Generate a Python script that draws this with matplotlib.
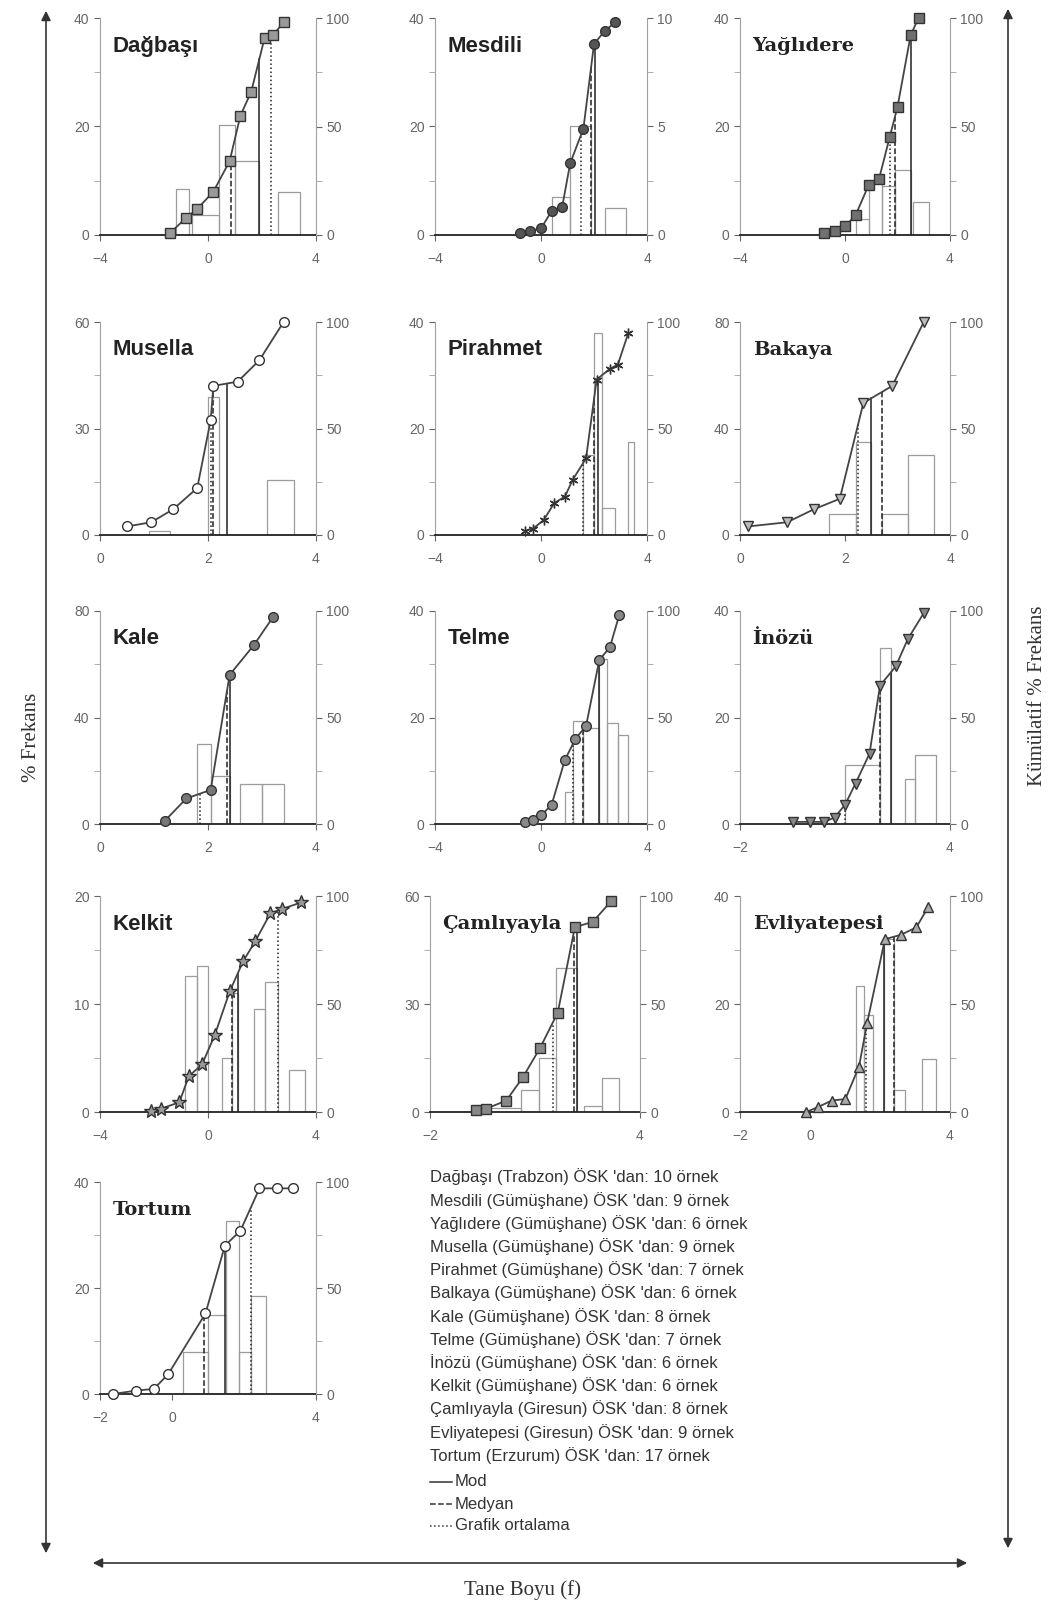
import numpy as np
import matplotlib.pyplot as plt

plt.rcParams['font.family'] = ['Liberation Sans', 'DejaVu Sans']

W, H = 1050, 1604

# --- locality names and the sample notes ---
localities = ['Dağbaşı', 'Mesdili', 'Yağlıdere', 'Musella', 'Pirahmet', 'Bakaya', 'Kale',
              'Telme', 'İnözü', 'Kelkit', 'Çamlıyayla', 'Evliyatepesi', 'Tortum']
sample_notes = [
    "Dağbaşı (Trabzon) ÖSK 'dan: 10 örnek",
    "Mesdili (Gümüşhane) ÖSK 'dan: 9 örnek",
    "Yağlıdere (Gümüşhane) ÖSK 'dan: 6 örnek",
    "Musella (Gümüşhane) ÖSK 'dan: 9 örnek",
    "Pirahmet (Gümüşhane) ÖSK 'dan: 7 örnek",
    "Balkaya (Gümüşhane) ÖSK 'dan: 6 örnek",
    "Kale (Gümüşhane) ÖSK 'dan: 8 örnek",
    "Telme (Gümüşhane) ÖSK 'dan: 7 örnek",
    "İnözü (Gümüşhane) ÖSK 'dan: 6 örnek",
    "Kelkit (Gümüşhane) ÖSK 'dan: 6 örnek",
    "Çamlıyayla (Giresun) ÖSK 'dan: 8 örnek",
    "Evliyatepesi (Giresun) ÖSK 'dan: 9 örnek",
    "Tortum (Erzurum) ÖSK 'dan: 17 örnek",
]
line_labels = ['Mod', 'Medyan', 'Grafik ortalama']

# --- axis ranges (phi on x, % frequency left, cumulative % right) ---
x_ranges = [(-4, 4), (-4, 4), (-4, 4), (0, 4), (-4, 4), (0, 4), (0, 4),
            (-4, 4), (-2, 4), (-4, 4), (-2, 4), (-2, 4), (-2, 4)]
x_ticks = [[-4, 0, 4], [-4, 0, 4], [-4, 0, 4], [0, 2, 4], [-4, 0, 4], [0, 2, 4], [0, 2, 4],
           [-4, 0, 4], [-2, 4], [-4, 0, 4], [-2, 4], [-2, 0, 4], [-2, 0, 4]]
freq_max = [40, 40, 40, 60, 40, 80, 80, 40, 40, 20, 60, 40, 40]
cum_max = [100, 10, 100, 100, 100, 100, 100, 100, 100, 100, 100, 100, 100]

# --- cumulative curves: phi and cumulative % ---
dagbasi_phi = [-1.4, -0.8, -0.4, 0.2, 0.8, 1.2, 1.6, 2.1, 2.4, 2.8]
dagbasi_cum = [1, 8, 12, 20, 34, 55, 66, 91, 92, 98]
mesdili_phi = [-0.8, -0.4, 0.0, 0.4, 0.8, 1.1, 1.6, 2.0, 2.4, 2.8]
mesdili_cum = [0.1, 0.2, 0.3, 1.1, 1.3, 3.3, 4.9, 8.8, 9.4, 9.8]
yaglidere_phi = [-0.8, -0.4, 0.0, 0.4, 0.9, 1.3, 1.7, 2.0, 2.5, 2.8]
yaglidere_cum = [1, 2, 4, 9, 23, 26, 45, 59, 92, 100]
musella_phi = [0.5, 0.95, 1.35, 1.8, 2.05, 2.1, 2.55, 2.95, 3.4]
musella_cum = [4, 6, 12, 22, 54, 70, 72, 82, 100]
pirahmet_phi = [-0.6, -0.3, 0.1, 0.5, 0.9, 1.2, 1.7, 2.1, 2.6, 2.9, 3.3]
pirahmet_cum = [2, 3, 7, 15, 18, 26, 36, 73, 78, 80, 95]
bakaya_phi = [0.15, 0.9, 1.4, 1.9, 2.35, 2.9, 3.5]
bakaya_cum = [4, 6, 12, 17, 62, 70, 100]
kale_phi = [1.2, 1.6, 2.05, 2.4, 2.85, 3.2]
kale_cum = [1.5, 12, 16, 70, 84, 97]
telme_phi = [-0.6, -0.3, 0.0, 0.4, 0.9, 1.3, 1.7, 2.2, 2.6, 2.95]
telme_cum = [1, 2, 4, 9, 30, 40, 46, 77, 83, 98]
inozu_phi = [-0.5, 0.0, 0.4, 0.7, 1.0, 1.3, 1.7, 2.0, 2.45, 2.8, 3.25]
inozu_cum = [1, 1, 1, 3, 9, 19, 33, 65, 74, 87, 99]
kelkit_phi = [-2.1, -1.75, -1.06, -0.71, -0.22, 0.25, 0.81, 1.31, 1.75, 2.31, 2.75, 3.44]
kelkit_cum = [0.5, 1.5, 4.5, 16.6, 22, 35.6, 56, 70, 79, 92, 94, 97]
camliyayla_phi = [-0.7, -0.4, 0.18, 0.65, 1.14, 1.65, 2.14, 2.65, 3.18]
camliyayla_cum = [0.8, 1.5, 5.3, 16, 29.5, 46, 85.6, 88, 97.7]
evliyatepesi_phi = [-0.11, 0.23, 0.62, 1.01, 1.4, 1.63, 2.14, 2.59, 3.04, 3.38]
evliyatepesi_cum = [0, 2.3, 5.3, 6, 21, 41, 80, 82, 85.5, 95]
tortum_phi = [-1.64, -1.0, -0.5, -0.1, 0.93, 1.47, 1.9, 2.43, 2.93, 3.36]
tortum_cum = [0, 1.6, 2.4, 9.5, 38, 70, 77, 97, 97, 97]

# --- histogram classes: lower edge, upper edge, % frequency ---
dagbasi_lo = [-1.2, -0.6, 0.4, 1.0, 2.6]
dagbasi_hi = [-0.7, 0.4, 1.0, 1.9, 3.4]
dagbasi_freq = [8.5, 3.7, 20.3, 13.7, 8.0]
mesdili_lo = [0.4, 1.1, 2.4]
mesdili_hi = [1.1, 1.9, 3.2]
mesdili_freq = [7, 20, 5]
yaglidere_lo = [0.4, 0.9, 1.4, 1.9, 2.6]
yaglidere_hi = [0.9, 1.4, 1.9, 2.5, 3.2]
yaglidere_freq = [3, 10, 9, 12, 6]
musella_lo = [0.9, 2.0, 3.1]
musella_hi = [1.3, 2.2, 3.6]
musella_freq = [1, 39, 15.5]
pirahmet_lo = [1.6, 2.0, 2.3, 3.3]
pirahmet_hi = [2.0, 2.3, 2.8, 3.5]
pirahmet_freq = [15, 38, 5, 17.5]
bakaya_lo = [1.7, 2.2, 2.7, 3.2]
bakaya_hi = [2.2, 2.5, 3.2, 3.7]
bakaya_freq = [8, 35, 8, 30]
kale_lo = [1.8, 2.05, 2.6, 3.0]
kale_hi = [2.05, 2.4, 3.0, 3.4]
kale_freq = [30, 18, 15, 15]
telme_lo = [0.9, 1.2, 1.6, 2.2, 2.5, 2.9]
telme_hi = [1.2, 1.6, 2.2, 2.5, 2.9, 3.3]
telme_freq = [6, 19.4, 18, 31, 19, 16.7]
inozu_lo = [1.0, 2.0, 2.7, 3.0]
inozu_hi = [2.0, 2.3, 3.0, 3.6]
inozu_freq = [11, 33, 8.4, 13]
kelkit_lo = [-0.85, -0.4, 0.5, 0.9, 1.7, 2.1, 3.0]
kelkit_hi = [-0.4, 0.0, 0.9, 1.1, 2.1, 2.6, 3.6]
kelkit_freq = [12.6, 13.5, 5, 11, 9.5, 12, 3.9]
camliyayla_lo = [-0.3, 0.6, 1.1, 1.6, 2.4, 2.9]
camliyayla_hi = [0.6, 1.1, 1.6, 2.2, 2.9, 3.4]
camliyayla_freq = [1, 6, 15, 40, 1.8, 9.5]
evliyatepesi_lo = [1.3, 1.55, 2.1, 2.4, 3.2]
evliyatepesi_hi = [1.55, 1.8, 2.4, 2.7, 3.6]
evliyatepesi_freq = [23.3, 18, 32, 4, 9.8]
tortum_lo = [0.3, 1.0, 1.5, 1.85, 2.2]
tortum_hi = [1.0, 1.5, 1.85, 2.2, 2.6]
tortum_freq = [8, 15, 32.7, 8, 18.4]

# --- mode, median and graphic mean (phi) ---
mode_phi = [1.9, 2.05, 2.5, 2.35, 2.15, 2.5, 2.4, 2.2, 2.3, 1.1, 2.2, 2.1, 1.47]
median_phi = [0.85, 1.9, 1.9, 2.1, 2.0, 2.7, 2.35, 1.6, 2.0, 0.9, 2.1, 2.4, 0.9]
mean_phi = [2.35, 1.5, 1.7, 2.05, 1.6, 2.25, 1.85, 1.2, 1.0, 2.6, 1.5, 1.6, 2.2]

curves = [(dagbasi_phi, dagbasi_cum), (mesdili_phi, mesdili_cum), (yaglidere_phi, yaglidere_cum),
          (musella_phi, musella_cum), (pirahmet_phi, pirahmet_cum), (bakaya_phi, bakaya_cum),
          (kale_phi, kale_cum), (telme_phi, telme_cum), (inozu_phi, inozu_cum),
          (kelkit_phi, kelkit_cum), (camliyayla_phi, camliyayla_cum),
          (evliyatepesi_phi, evliyatepesi_cum), (tortum_phi, tortum_cum)]
histos = [(dagbasi_lo, dagbasi_hi, dagbasi_freq), (mesdili_lo, mesdili_hi, mesdili_freq),
          (yaglidere_lo, yaglidere_hi, yaglidere_freq), (musella_lo, musella_hi, musella_freq),
          (pirahmet_lo, pirahmet_hi, pirahmet_freq), (bakaya_lo, bakaya_hi, bakaya_freq),
          (kale_lo, kale_hi, kale_freq), (telme_lo, telme_hi, telme_freq),
          (inozu_lo, inozu_hi, inozu_freq), (kelkit_lo, kelkit_hi, kelkit_freq),
          (camliyayla_lo, camliyayla_hi, camliyayla_freq),
          (evliyatepesi_lo, evliyatepesi_hi, evliyatepesi_freq),
          (tortum_lo, tortum_hi, tortum_freq)]

# panel boxes in pixels: left, right, top, bottom
rows = [(18, 235), (322, 535), (611, 824), (896, 1112), (1182, 1394)]
cols = [(100, 316), (435, 647), (740, 950)]
boxes = []
for i in range(13):
    r, c = divmod(i, 3)
    left, right = cols[c]
    if localities[i] == 'Çamlıyayla':
        left, right = 430, 640
    boxes.append((left, right) + rows[r])

markers = ['s', 'o', 's', 'o', (6, 2, 0), 'v', 'o', 'o', 'v', '*', 's', '^', 'o']
marker_fill = ['#999999', '#555555', '#707070', 'white', '#333333', '#bbbbbb', '#777777',
               '#888888', '#888888', '#999999', '#888888', '#aaaaaa', 'white']
serif_titles = {'Yağlıdere', 'Bakaya', 'İnözü', 'Çamlıyayla', 'Evliyatepesi', 'Tortum'}

fig = plt.figure(figsize=(W / 100, H / 100), dpi=100)

# outer frame with arrows and the shared axis titles
frame = fig.add_axes([0, 0, 1, 1])
frame.set_xlim(0, W)
frame.set_ylim(H, 0)
frame.axis('off')
arrow = dict(arrowstyle='<|-|>', color='#333333', lw=1.2, mutation_scale=14)
frame.annotate('', xy=(46, 8), xytext=(46, 1556), arrowprops=arrow)
frame.annotate('', xy=(1008, 6), xytext=(1008, 1551), arrowprops=arrow)
frame.annotate('', xy=(90, 1563), xytext=(970, 1563), arrowprops=arrow)
serif = ['Liberation Serif', 'DejaVu Serif']
frame.text(32, 737, '% Frekans', rotation=90, ha='center', va='center',
           fontsize=15, family=serif, color='#333333')
frame.text(1038, 696, 'Kümülatif % Frekans', rotation=90, ha='center', va='center',
           fontsize=15, family=serif, color='#333333')
frame.text(522, 1590, 'Tane Boyu (f)', ha='center', va='center', fontsize=15,
           family=serif, color='#333333')

# sample notes and line key
for k, note in enumerate(sample_notes):
    frame.text(430, 1177 + k * 23.2, note, ha='left', va='center', fontsize=12, color='#333333')
key_y = [1482, 1504, 1526]
for y, lab, ls in zip(key_y, line_labels, ['-', '--', ':']):
    frame.plot([430, 452], [y, y], color='#333333', ls=ls, lw=1.1)
    frame.text(455, y, lab, ha='left', va='center', fontsize=12, color='#333333')

for i, name in enumerate(localities):
    left, right, top, bottom = boxes[i]
    ax = fig.add_axes([left / W, 1 - bottom / H, (right - left) / W, (bottom - top) / H])
    ax.patch.set_alpha(0)
    phi, cum = curves[i]
    lo, hi, freq = histos[i]

    ax.bar(lo, freq, width=np.subtract(hi, lo), align='edge', fill=False,
           edgecolor='#9c9c9c', lw=0.9)
    ax.set_xlim(*x_ranges[i])
    ax.set_ylim(0, freq_max[i])
    ax.set_xticks(x_ticks[i])
    ymax = freq_max[i]
    ax.set_yticks([0, ymax / 2, ymax])
    ax.set_yticks([ymax / 4, ymax * 3 / 4], minor=True)
    ax.set_yticklabels([f'{v:g}' for v in [0, ymax / 2, ymax]])
    ax.spines['top'].set_visible(False)
    ax.spines['left'].set_color('#a0a0a0')
    ax.spines['left'].set_linewidth(0.8)
    ax.spines['bottom'].set_color('#222222')
    ax.spines['bottom'].set_linewidth(1.3)
    ax.spines['right'].set_visible(False)
    ax.tick_params(axis='both', labelsize=10, colors='#666666', length=4, width=0.8)
    ax.tick_params(axis='x', pad=8)
    ax.tick_params(axis='y', which='minor', length=4, color='#a0a0a0')

    ax2 = ax.twinx()
    ax2.patch.set_alpha(0)
    cmax = cum_max[i]
    ax2.set_ylim(0, cmax)
    ax2.set_yticks([0, cmax / 2, cmax])
    ax2.set_yticks([cmax / 4, cmax * 3 / 4], minor=True)
    ax2.set_yticklabels([f'{v:g}' for v in [0, cmax / 2, cmax]])
    for s in ['top', 'left', 'bottom']:
        ax2.spines[s].set_visible(False)
    ax2.spines['right'].set_color('#a0a0a0')
    ax2.spines['right'].set_linewidth(0.8)
    ax2.tick_params(axis='y', labelsize=10, colors='#666666', length=4, width=0.8)
    ax2.tick_params(axis='y', which='minor', length=4, color='#a0a0a0')

    # mode / median / mean drawn up to the cumulative curve
    for v, ls in zip([mode_phi[i], median_phi[i], mean_phi[i]], ['-', '--', ':']):
        ax2.plot([v, v], [0, np.interp(v, phi, cum)], color='#222222', ls=ls, lw=1.1)

    ms = 10 if markers[i] == '*' else 7
    ax2.plot(phi, cum, color='#444444', lw=1.3, marker=markers[i], ms=ms,
             mfc=marker_fill[i], mec='#333333', mew=1.0, clip_on=False)

    if name in serif_titles:
        ax.text(0.06, 0.87, name, transform=ax.transAxes, fontsize=14, fontweight='bold',
                family=['DejaVu Serif'], color='#222222', va='center', ha='left')
    else:
        ax.text(0.06, 0.87, name, transform=ax.transAxes, fontsize=16, fontweight='bold',
                color='#222222', va='center', ha='left')

fig.savefig('out.png', dpi=100)
